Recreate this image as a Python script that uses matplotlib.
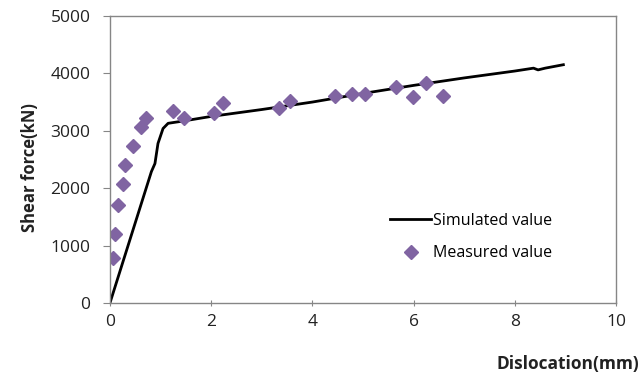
import numpy as np
import matplotlib.pyplot as plt

# Simulated curve (mm, kN)
sim_x = [0, 0.82, 0.89, 0.95, 1.05, 1.15, 1.45, 2.0, 3.0, 4.0, 5.0, 6.0, 7.0, 8.0, 8.37, 8.46, 8.6, 8.96]
sim_y = [0, 2290, 2430, 2780, 3040, 3130, 3170, 3250, 3370, 3500, 3650, 3790, 3920, 4040, 4090, 4060, 4090, 4150]

# Measured points
meas_x = [0.07, 0.10, 0.16, 0.26, 0.30, 0.46, 0.61, 0.72, 1.24, 1.46, 2.06, 2.24,
          3.34, 3.56, 4.45, 4.78, 5.05, 5.65, 5.98, 6.24, 6.59]
meas_y = [790, 1210, 1710, 2080, 2400, 2740, 3070, 3230, 3345, 3230, 3315, 3480,
          3390, 3525, 3605, 3640, 3640, 3755, 3580, 3825, 3605]

plt.rcParams['font.family'] = ['Open Sans', 'DejaVu Sans']

fig = plt.figure(figsize=(6.39, 3.78), dpi=100)
ax = fig.add_axes([0.172, 0.198, 0.792, 0.760])

ax.plot(sim_x, sim_y, color='black', linewidth=2.0, label='Simulated value')
ax.plot(meas_x, meas_y, linestyle='none', marker='D', markersize=7.5,
        color='#8064A2', label='Measured value')

ax.set_xlim(0, 10)
ax.set_ylim(0, 5000)
ax.set_xticks(range(0, 11, 2))
ax.set_yticks(range(0, 5001, 1000))

for s in ax.spines.values():
    s.set_color('#868686')
    s.set_linewidth(1.0)
ax.tick_params(axis='both', color='#868686', length=5, labelsize=12.5, labelcolor='#222222')
ax.tick_params(axis='x', direction='inout', pad=5)
ax.tick_params(axis='y', direction='out', pad=9)

fig.text(0.047, 0.556, 'Shear force(kN)', rotation=90, ha='center', va='center',
         fontsize=12, fontweight='bold', color='#222222')
fig.text(1.0, 0.037, 'Dislocation(mm)', ha='right', va='center',
         fontsize=12.5, fontweight='bold', color='#222222')

ax.legend(loc='upper left', bbox_to_anchor=(0.553, 0.315), frameon=False,
          borderpad=0, borderaxespad=0,
          fontsize=11.5, handlelength=2.6, handletextpad=0.1, labelspacing=1.05)

fig.savefig('out.png', dpi=100)
